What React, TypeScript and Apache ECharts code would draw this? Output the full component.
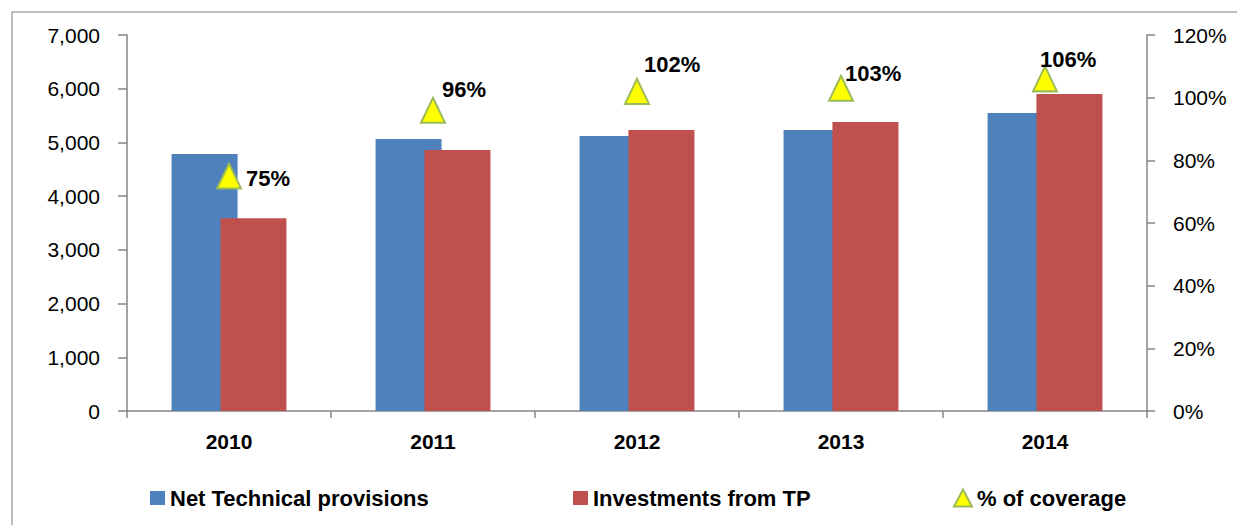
import React, { useEffect, useRef } from "react";
import * as echarts from "echarts";

const years = ["2010", "2011", "2012", "2013", "2014"];
const netTechnicalProvisions = [4785, 5064, 5120, 5232, 5548];
const investmentsFromTP = [3590, 4859, 5232, 5380, 5902];
const coveragePct = [75, 96, 102, 103, 106];
const leftTicks = { min: 0, max: 7000, interval: 1000 };
const rightTicks = { min: 0, max: 120, interval: 20 };

// label offsets (style only)
const coverageLabelOffsets = [
  [-1, 2],
  [-9, -21],
  [-11, -27],
  [-14, -15],
  [-23, -19],
];

const FONT = "'Liberation Sans', Arial, sans-serif";
const AXIS_GRAY = "#868686";

export default function App() {
  const ref = useRef<HTMLDivElement>(null);
  useEffect(() => {
    if (!ref.current) return;
    const chart = echarts.init(ref.current, undefined, { renderer: "svg" });
    const option: any = {
      animation: false,
      backgroundColor: "#ffffff",
      textStyle: { fontFamily: FONT },
      grid: { left: 127, right: 90, top: 35, bottom: 114, containLabel: false },
      graphic: [
        {
          type: "rect",
          shape: { x: 12, y: 12, width: 1240, height: 530 },
          style: { fill: "none", stroke: "#a6a6a6", lineWidth: 1.5 },
          silent: true,
        },
      ],
      legend: [
        {
          data: ["Net Technical provisions"],
          left: 145,
          top: 482,
          icon: "rect",
          itemWidth: 15,
          itemHeight: 14,
          textStyle: { fontFamily: FONT, fontSize: 22, fontWeight: "bold", color: "#000" },
        },
        {
          data: ["Investments from TP"],
          left: 568,
          top: 482,
          icon: "rect",
          itemWidth: 15,
          itemHeight: 14,
          textStyle: { fontFamily: FONT, fontSize: 22, fontWeight: "bold", color: "#000" },
        },
        {
          data: [{ name: "% of coverage", icon: "triangle" }],
          left: 948,
          top: 482,
          itemWidth: 18,
          itemHeight: 17,
          textStyle: { fontFamily: FONT, fontSize: 22, fontWeight: "bold", color: "#000" },
        },
      ],
      xAxis: {
        type: "category",
        data: years,
        axisLine: { show: true, lineStyle: { color: AXIS_GRAY, width: 1.5 } },
        axisTick: { show: true, length: 7, lineStyle: { color: AXIS_GRAY, width: 1.5 } },
        axisLabel: {
          margin: 20,
          fontFamily: FONT,
          fontSize: 21,
          fontWeight: "bold",
          color: "#000",
        },
        splitLine: { show: false },
      },
      yAxis: [
        {
          type: "value",
          min: leftTicks.min,
          max: leftTicks.max,
          interval: leftTicks.interval,
          position: "left",
          axisLine: { show: true, lineStyle: { color: AXIS_GRAY, width: 1.5 } },
          axisTick: { show: true, inside: false, length: 9, lineStyle: { color: AXIS_GRAY, width: 1.5 } },
          axisLabel: {
            margin: 27,
            fontFamily: FONT,
            fontSize: 21,
            color: "#000",
            formatter: (v: number) => v.toLocaleString("en-US"),
          },
          splitLine: { show: false },
        },
        {
          type: "value",
          min: rightTicks.min,
          max: rightTicks.max,
          interval: rightTicks.interval,
          position: "right",
          axisLine: { show: true, lineStyle: { color: AXIS_GRAY, width: 1.5 } },
          axisTick: { show: true, inside: false, length: 8, lineStyle: { color: AXIS_GRAY, width: 1.5 } },
          axisLabel: {
            margin: 26,
            fontFamily: FONT,
            fontSize: 21,
            color: "#000",
            formatter: "{value}%",
          },
          splitLine: { show: false },
        },
      ],
      series: [
        {
          name: "Net Technical provisions",
          type: "bar",
          data: netTechnicalProvisions,
          barWidth: 66,
          barGap: "-26%",
          itemStyle: { color: "#4F81BD" },
        },
        {
          name: "Investments from TP",
          type: "bar",
          data: investmentsFromTP,
          barWidth: 66,
          barGap: "-26%",
          itemStyle: { color: "#C0504D" },
        },
        {
          name: "% of coverage",
          type: "line",
          yAxisIndex: 1,
          z: 5,
          symbol: "triangle",
          symbolSize: [24, 25],
          lineStyle: { opacity: 0, width: 0 },
          itemStyle: { color: "#FFFF00", borderColor: "#9BBB59", borderWidth: 2 },
          data: coveragePct.map((v, i) => ({
            value: v,
            label: { offset: coverageLabelOffsets[i] },
          })),
          label: {
            show: true,
            position: "right",
            formatter: "{c}%",
            fontFamily: FONT,
            fontSize: 22,
            fontWeight: "bold",
            color: "#000",
          },
        },
      ],
    };
    chart.setOption(option);
    return () => chart.dispose();
  }, []);
  return (
    <div
      ref={ref}
      style={{ position: "absolute", left: 0, top: 0, width: 1237, height: 525 }}
    />
  );
}
